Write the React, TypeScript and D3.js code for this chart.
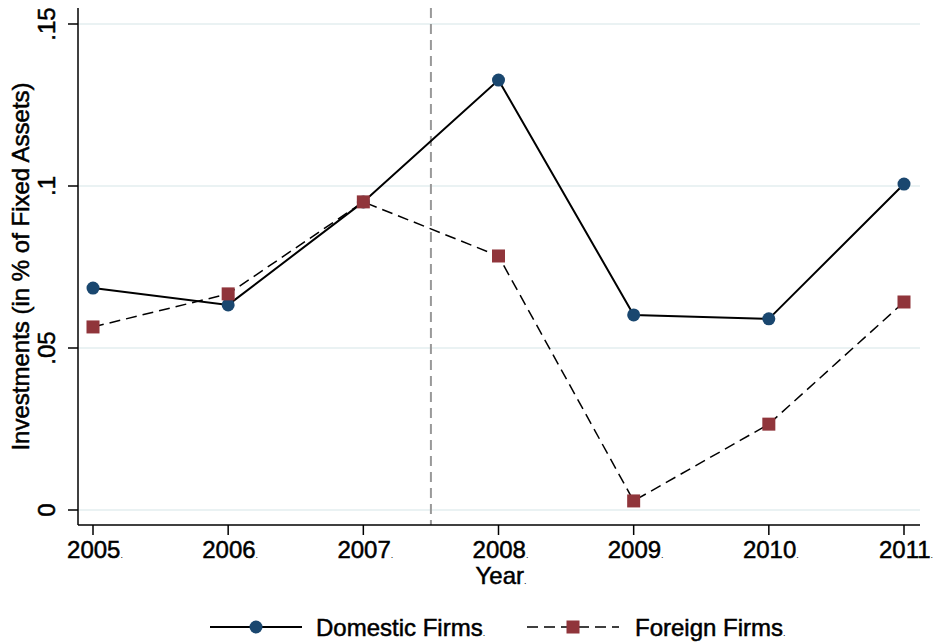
import * as d3 from 'd3';

const years = [2005, 2006, 2007, 2008, 2009, 2010, 2011];
const domestic = [0.0685, 0.0633, 0.0951, 0.1327, 0.0602, 0.0590, 0.1006];
const foreign = [0.0565, 0.0667, 0.0951, 0.0784, 0.0028, 0.0265, 0.0642];
const yTicks = [0, 0.05, 0.1, 0.15];
const yTickLabels = ['0', '.05', '.1', '.15'];
const breakYear = 2007.5;

const NAVY = '#1a476f';
const MAROON = '#90353b';
const FONT = 'Liberation Sans, Arial, sans-serif';

export default function App() {
  const W = 936, H = 643;
  const left = 78, right = 920, top = 8, bottom = 525;
  const x = d3.scaleLinear().domain([2005, 2011]).range([93, 904]);
  const y = d3.scaleLinear().domain([0, 0.15]).range([510, 24]);

  const line = d3.line<number>().x((_, i) => x(years[i])).y(d => y(d));

  // tiny trailing dot seen after each label
  const dot = () => <tspan fontSize={9} stroke="none">.</tspan>;
  const txt = { fontSize: 24, stroke: '#000', strokeWidth: 0.5 };

  return (
    <svg width={W} height={H} style={{ position: 'absolute', left: 0, top: 0, background: '#fff' }}
      fontFamily={FONT}>
      {/* grid */}
      {yTicks.map(t => (
        <line key={t} x1={left} x2={right} y1={y(t)} y2={y(t)} stroke="#eaf2f3" strokeWidth={2} />
      ))}
      {/* break line */}
      <line x1={x(breakYear)} x2={x(breakYear)} y1={top} y2={bottom} stroke="#999" strokeWidth={2}
        strokeDasharray="10,6" />
      {/* axes */}
      <line x1={left} x2={left} y1={top} y2={bottom} stroke="#000" strokeWidth={1.5} />
      <line x1={left} x2={right} y1={bottom} y2={bottom} stroke="#000" strokeWidth={1.5} />
      {yTicks.map((t, i) => (
        <g key={t}>
          <line x1={left - 10} x2={left} y1={y(t)} y2={y(t)} stroke="#000" strokeWidth={1.5} />
          <text transform={`translate(55,${y(t)}) rotate(-90)`} textAnchor="middle" {...txt}>
            {yTickLabels[i]}
          </text>
        </g>
      ))}
      {years.map(yr => (
        <g key={yr}>
          <line x1={x(yr)} x2={x(yr)} y1={bottom} y2={bottom + 10} stroke="#000" strokeWidth={1.5} />
          <text x={x(yr) + 2} y={558} textAnchor="middle" {...txt}>
            {yr}{dot()}
          </text>
        </g>
      ))}
      <text x={501} y={584} textAnchor="middle" {...txt}>Year{dot()}</text>
      <text transform={`translate(29,${(top + bottom) / 2}) rotate(-90)`} textAnchor="middle" {...txt}>
        Investments (in % of Fixed Assets)
      </text>

      {/* series */}
      <path d={line(domestic) || ''} fill="none" stroke="#000" strokeWidth={2} />
      <path d={line(foreign) || ''} fill="none" stroke="#000" strokeWidth={1.5} strokeDasharray="11,6" />
      {domestic.map((d, i) => (
        <circle key={i} cx={x(years[i])} cy={y(d)} r={6.5} fill={NAVY} />
      ))}
      {foreign.map((d, i) => (
        <rect key={i} x={x(years[i]) - 6.5} y={y(d) - 6.5} width={13} height={13} fill={MAROON} />
      ))}

      {/* legend */}
      <line x1={210} x2={302} y1={627} y2={627} stroke="#000" strokeWidth={2} />
      <circle cx={256} cy={627} r={6.5} fill={NAVY} />
      <text x={316} y={636} {...txt}>Domestic Firms{dot()}</text>
      <line x1={527} x2={619} y1={627} y2={627} stroke="#000" strokeWidth={1.5} strokeDasharray="11,6" />
      <rect x={566.5} y={620.5} width={13} height={13} fill={MAROON} />
      <text x={635} y={636} {...txt}>Foreign Firms{dot()}</text>
    </svg>
  );
}
